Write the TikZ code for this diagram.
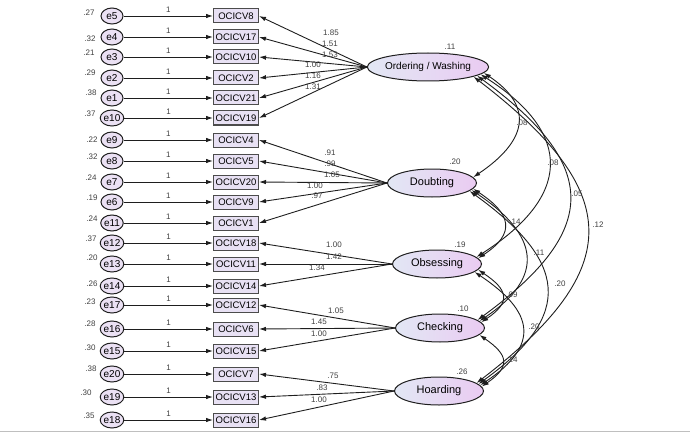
\documentclass[tikz,border=0pt]{standalone}
\usepackage{fontspec}
\setmainfont{Liberation Sans}
\usetikzlibrary{shapes.geometric,arrows.meta}
\definecolor{errfill}{HTML}{EBE1F4}
\definecolor{boxfill}{HTML}{E8E1F4}
\definecolor{latl}{HTML}{E2E7F4}
\definecolor{latr}{HTML}{EACBF2}
\definecolor{inkc}{HTML}{1E1E1E}
\begin{document}
\begin{tikzpicture}[x=1pt,y=-1pt,
  err/.style={ellipse,draw=inkc,fill=errfill,line width=1pt,minimum width=22pt,minimum height=16pt,inner sep=0pt,font=\fontsize{10}{11}\selectfont},
  obs/.style={rectangle,draw=black!70,fill=boxfill,line width=1pt,minimum width=45pt,minimum height=14pt,inner sep=0pt,font=\fontsize{9.5}{10}\selectfont},
  lat/.style={ellipse,draw=inkc,left color=latl,right color=latr,line width=1pt,minimum width=89pt,minimum height=28pt,inner sep=0pt,font=\fontsize{11}{12}\selectfont},
  num/.style={font=\fontsize{8}{9}\selectfont,text=black!75,inner sep=0pt},
  arr/.style={-{Latex[length=7pt,width=4.5pt]},line width=0.9pt,draw=inkc},
  cov/.style={{Latex[length=7pt,width=4.5pt]}-{Latex[length=7pt,width=4.5pt]},line width=0.9pt,draw=inkc}
]
\useasboundingbox (0,0) rectangle (690,433);
\draw[black!25,line width=1pt] (0,431.5) -- (690,431.5);

% indicators with error terms
\foreach \e/\b/\y/\v/\vx/\vy/\ox in {
  5/8/16/.27/92/13/166, 4/17/37/.32/93/39/166, 3/10/57/.21/92/53/166,
  2/2/78/.29/93/73/166, 1/21/98/.38/94/93/166, 10/19/118/.37/93/114/166,
  9/4/140/.22/95/140/166, 8/5/161/.32/95/157/166, 7/20/182/.24/94/178/166,
  6/9/202/.19/95/198/166, 11/1/223/.24/95/219/166, 12/18/243/.37/94/239/166,
  13/11/264/.20/95/258/166, 14/14/286/.26/95/284/166, 17/12/305/.23/93/302/166,
  16/6/329/.28/93/324/166, 15/15/351/.30/93/348/166, 20/7/374/.38/94/369/166,
  19/13/397/.30/89/393/170, 18/16/420/.35/92/416/170}{
  \node[err] (ee\e) at (112,\y) {e\e};
  \node[obs] (bx\b) at (236,\y) {OCICV\b};
  \node[num] (ev\e) at (\vx-3,\vy) {\v};
  \draw[arr] (ee\e) -- node[num,pos=0.5,above=3pt] (one\e) {1} (bx\b);
}

% latent factors
\node[lat,font=\fontsize{10}{11}\selectfont] (O)  at (428,67)  {Ordering / Washing};
\node[lat] (D)  at (432,183) {Doubting};
\node[lat] (Ob) at (437,264) {Obsessing};
\node[lat] (C)  at (440,328) {Checking};
\node[lat] (H)  at (439,391) {Hoarding};

\node[num] (vO)  at (450,47)  {.11};
\node[num] (vD)  at (455,162) {.20};
\node[num] (vOb) at (460,245) {.19};
\node[num] (vC)  at (463,309) {.10};
\node[num] (vH)  at (462,372) {.26};

% loadings
\foreach \f/\b/\l/\lx/\ly in {
  O/8/1.85/331/33, O/17/1.51/330/44, O/10/1.53/330/55, O/2/1.00/313/65, O/21/1.16/313/76, O/19/1.31/313/87,
  D/4/.91/330/153, D/5/.99/330/164, D/20/1.05/332/175, D/9/1.00/315/186, D/1/.97/317/196,
  Ob/18/1.00/334/245, Ob/11/1.42/334/257, Ob/14/1.34/317/268,
  C/12/1.05/336/311, C/6/1.45/319/322, C/15/1.00/319/334,
  H/7/.75/333/376, H/13/.83/322/388, H/16/1.00/319/400}{
  \draw[arr] (\f.west) -- (bx\b.east);
  \node[num] (ld\b) at (\lx,\ly) {\l};
}

% covariances
\draw[cov] (O.-6)  .. controls +(52,35)  and +(52,-35)  .. (D.8);
\draw[cov] (O.-8)  .. controls +(94,60)  and +(94,-60)  .. (Ob.10);
\draw[cov] (O.-10) .. controls +(123,90) and +(123,-90) .. (C.12);
\draw[cov] (O.-12) .. controls +(150,115) and +(150,-115) .. (H.12);
\draw[cov] (D.-8)  .. controls +(38,25)  and +(38,-25)  .. (Ob.8);
\draw[cov] (D.-10) .. controls +(67,45)  and +(67,-45)  .. (C.10);
\draw[cov] (D.-12) .. controls +(97,70)  and +(97,-70)  .. (H.10);
\draw[cov] (Ob.-8) .. controls +(30,20)  and +(30,-20)  .. (C.8);
\draw[cov] (Ob.-12) .. controls +(60,40) and +(60,-40)  .. (H.8);
\draw[cov] (C.-10) .. controls +(29,20)  and +(29,-20)  .. (H.6);

\node[num] (cOD)  at (522,123) {.08};
\node[num] (cOOb) at (553,163) {.08};
\node[num] (cOC)  at (577,194) {.05};
\node[num] (cOH)  at (598,225) {.12};
\node[num] (cDOb) at (515,222) {.14};
\node[num] (cDC)  at (539,253) {.11};
\node[num] (cDH)  at (560,284) {.20};
\node[num] (cObC) at (512,295) {.09};
\node[num] (cObH) at (534,327) {.20};
\node[num] (cCH)  at (512,360) {.14};
\end{tikzpicture}
\end{document}
